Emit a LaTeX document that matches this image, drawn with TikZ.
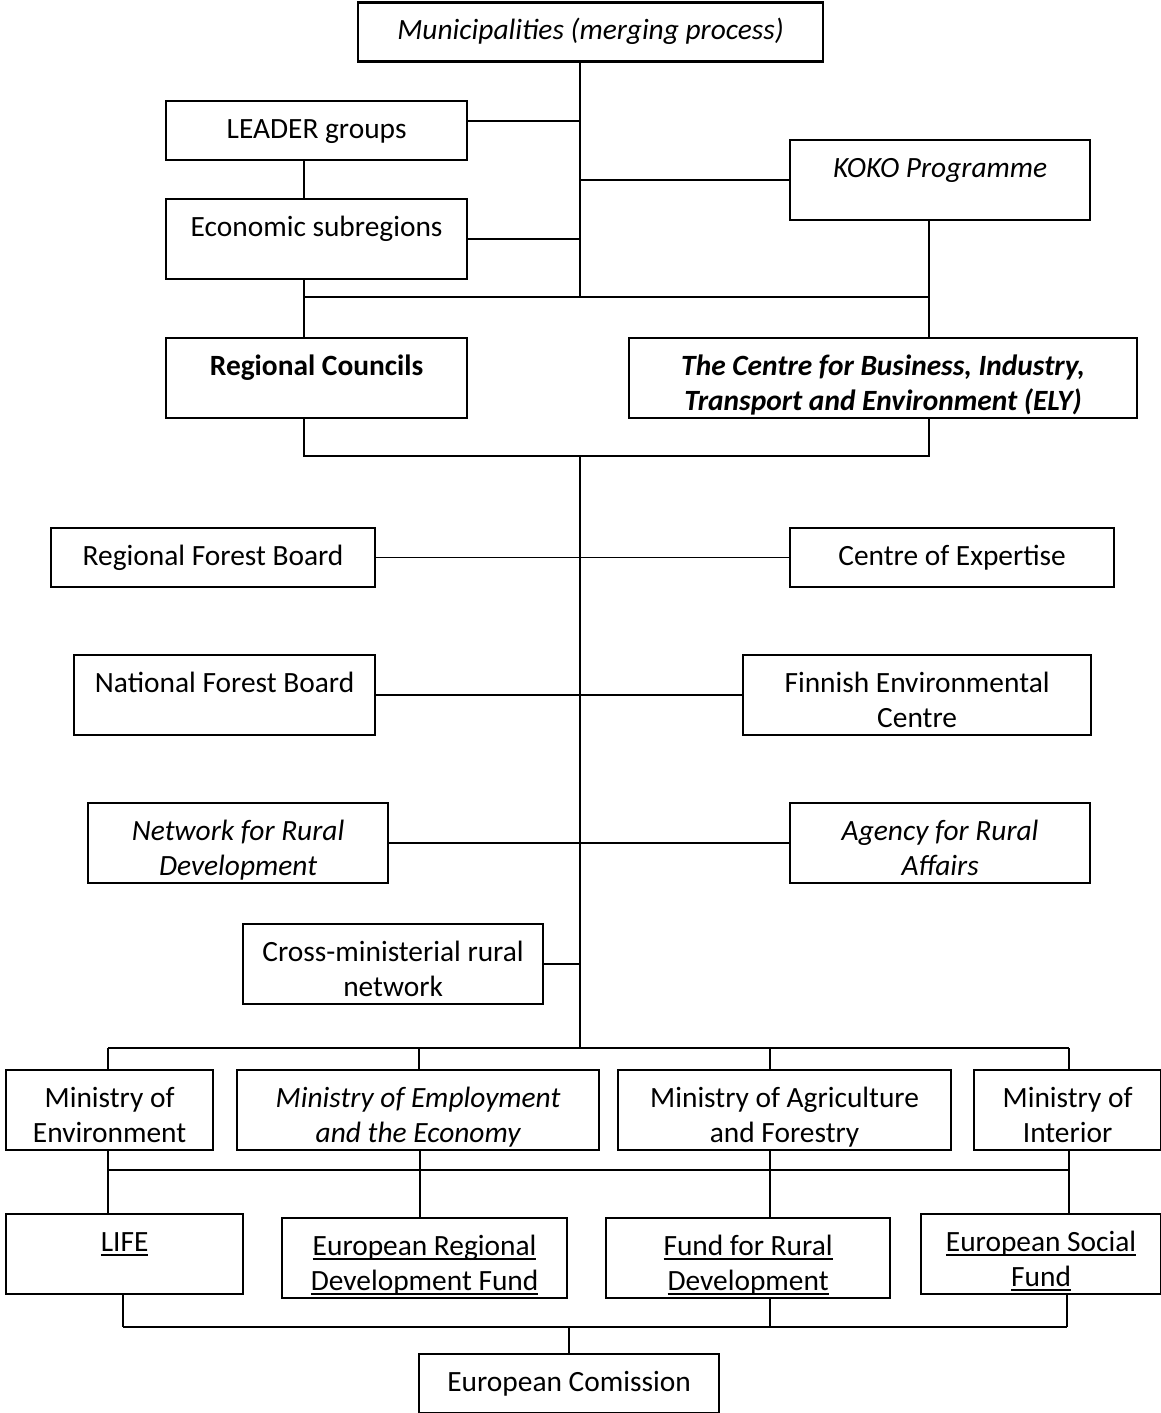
\documentclass[tikz,border=0pt]{standalone}
\usepackage{fontspec}
\setmainfont{Carlito}
\newcommand{\fixul}[1]{\leavevmode\hbox{\setbox0\hbox{#1}\rlap{\rule[-2.4pt]{\wd0}{0.9pt}}\box0}}
\tikzset{
    box/.style={draw,line width=1.1pt,anchor=north west,inner sep=0pt,align=flush center,text width=#1,text height=18.5pt},
    onerow/.style={text depth=11pt},
    tworow/.style={text depth=21.5pt},
    link/.style={black,line width=0.8pt}
}

\begin{document}
\begin{tikzpicture}[x=0.5pt,y=-0.5pt,font=\fontsize{14.7}{17.5}\selectfont]
\useasboundingbox (0,0) rectangle (1161,1413);
\node[box=232.5pt,onerow] (muni) at (357,1.5) {\itshape Municipalities (merging process)};
\node[box=150.5pt,onerow] (leader) at (165,100) {LEADER groups};
\node[box=150pt,tworow] (koko) at (789,139) {\itshape KOKO Programme};
\node[box=150.5pt,tworow] (econ) at (165,198) {Economic subregions};
\node[box=150.5pt,tworow] (regc) at (165,337) {\bfseries Regional Councils};
\node[box=254pt,tworow] (ely) at (628,337) {\bfseries\itshape The Centre for Business, Industry,\\ Transport and Environment (ELY)};
\node[box=162pt,onerow] (rfb) at (50,527) {Regional Forest Board};
\node[box=162pt,onerow] (coe) at (789,527) {Centre of Expertise};
\node[box=150.5pt,tworow] (nfb) at (73,654) {National Forest Board};
\node[box=174pt,tworow] (fec) at (742,654) {Finnish Environmental\\ Centre};
\node[box=150pt,tworow] (nrd) at (87,802) {\itshape Network for Rural\\ Development};
\node[box=150pt,tworow] (ara) at (789,802) {\itshape Agency for Rural\\ Affairs};
\node[box=150pt,tworow] (cmr) at (242,923) {Cross-ministerial rural\\ network};
\node[box=103.5pt,tworow] (moe) at (5,1069) {Ministry of\\ Environment};
\node[box=181pt,tworow] (mee) at (236,1069) {\itshape Ministry of Employment\\ and the Economy};
\node[box=166.5pt,tworow] (maf) at (617,1069) {Ministry of Agriculture\\ and Forestry};
\node[box=93.5pt,tworow] (moi) at (973,1069) {Ministry of\\ Interior};
\node[box=118.5pt,tworow] (life) at (5,1213) {\fixul{LIFE}};
\node[box=142.5pt,tworow] (erdf) at (281,1217) {\fixul{European Regional}\\ \fixul{Development Fund}};
\node[box=142pt,tworow] (frd) at (605,1217) {\fixul{Fund for Rural}\\ \fixul{Development}};
\node[box=120pt,tworow] (esf) at (920,1213) {\fixul{European Social}\\ \fixul{Fund}};
\node[box=150pt,onerow] (ec) at (418,1353) {European Comission};

\coordinate (hubA) at (580,297);
\coordinate (hubB) at (580,456);
\coordinate (hubC) at (580,1048);
\coordinate (colL) at (304,297);
\coordinate (colR) at (929,297);

\draw[link] (muni.south -| hubA) -- (hubA);
\draw[link] ([yshift=4.75pt]leader.east) coordinate (lg) -- (lg -| hubA);
\draw[link] (koko.west) -- (koko.west -| hubA);
\draw[link] (econ.east) -- (econ.east -| hubA);
\draw[link] (leader.south -| colL) -- (econ.north -| colL);
\draw[link] (econ.south -| colL) -- (regc.north -| colL);
\draw[link] (koko.south -| colR) -- (ely.north -| colR);
\draw[link] (colL) -- (colR);
\draw[link] (regc.south -| colL) -- (colL |- hubB) -- (colR |- hubB) -- (ely.south -| colR);
\draw[link] (hubB) -- (hubC);
\draw[link] (rfb.east) -- (coe.west);
\draw[link] (nfb.east) -- (fec.west);
\draw[link] (nrd.east) -- (ara.west);
\draw[link] (cmr.east) -- (cmr.east -| hubB);

\foreach \n/\x in {moe/108,mee/419,maf/770,moi/1069}{
  \coordinate (top-\n) at (\x,1048);
  \draw[link] (top-\n) -- (\n.north -| top-\n);
}
\draw[link] (top-moe) -- (top-moi);
\foreach \n/\f/\x in {moe/life/108,mee/erdf/420,maf/frd/770,moi/esf/1069}{
  \coordinate (mid-\n) at (\x,1170);
  \draw[link] (\n.south -| mid-\n) -- (\f.north -| mid-\n);
}
\draw[link] (mid-moe) -- (mid-moi);
\foreach \f/\x in {life/123,frd/770,esf/1067}{
  \coordinate (low-\f) at (\x,1327);
  \draw[link] (\f.south -| low-\f) -- (low-\f);
}
\coordinate (low-ec) at (569,1327);
\draw[link] (low-life) -- (low-esf);
\draw[link] (low-ec) -- (ec.north -| low-ec);
\end{tikzpicture}
\end{document}
